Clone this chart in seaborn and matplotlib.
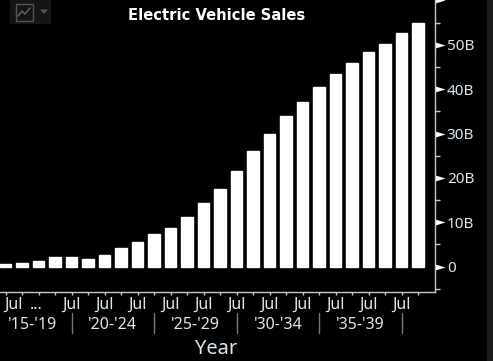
#!/usr/bin/env python3
# -*- coding: utf-8 -*-
import pandas as pd
import seaborn as sns
import matplotlib
matplotlib.use('Agg')
import matplotlib.pyplot as plt
from matplotlib.path import Path
from matplotlib.lines import Line2D
from matplotlib.patches import Rectangle

years = list(range(2014, 2040))
sales = [0.6, 0.9, 1.2, 2.1, 2.1, 1.8, 2.7, 4.1, 5.5, 7.3, 8.6, 11.1, 14.3, 17.6,
         21.5, 26.0, 30.0, 34.0, 37.0, 40.4, 43.5, 46.0, 48.3, 50.2, 52.6, 55.0]
ytick_vals = [0, 10, 20, 30, 40, 50, 60]
ytick_labels = ['0', '10B', '20B', '30B', '40B', '50B', '']
minor_vals = [-5, 5, 15, 25, 35, 45, 55]
jul_bars = [0.44, 1.84, 4, 6, 8, 10, 12, 14, 16, 18, 20, 22, 24]
jul_labels = ['Jul', '...', 'Jul', 'Jul', 'Jul', 'Jul', 'Jul', 'Jul', 'Jul', 'Jul', 'Jul', 'Jul', 'Jul']
group_labels = ["'15-'19", "'20-'24", "'25-'29", "'30-'34", "'35-'39"]
group_pos = [1.65, 6.5, 11.5, 16.5, 21.5]
group_seps = [4, 9, 14, 19, 24]

TXT = '#dbe6ee'
LINE = '#c8c8c8'

df = pd.DataFrame({'year': years, 'sales': sales})

sns.set_style('dark')
plt.rcParams['font.family'] = ['Noto Sans', 'DejaVu Sans']

W, H = 493, 361
fig = plt.figure(figsize=(W / 100, H / 100), dpi=100, facecolor='black')
ax = fig.add_axes([0, (H - 291.5) / H, 435 / W, 291.5 / H], facecolor='black')

sns.barplot(data=df, x='year', y='sales', color='white', saturation=1, width=0.7, ax=ax)

ax.set_xlim(-0.346, 26.03)
ax.set_ylim(-5.6, 60.1)
ax.grid(False)
ax.set_xlabel('')
ax.set_ylabel('')
for s in ['top', 'left']:
    ax.spines[s].set_visible(False)
for s in ['bottom', 'right']:
    ax.spines[s].set_visible(True)
    ax.spines[s].set_color(LINE)
    ax.spines[s].set_linewidth(1)

# x axis: one tick per bar, labels are placed by hand below
ax.set_xticks(range(len(years)))
ax.set_xticklabels(['' for y in years])
ax.tick_params(axis='x', length=2.5, width=1, color=LINE, bottom=True)
for b, lab in zip(jul_bars, jul_labels):
    ax.text(b, -0.06, lab, transform=ax.get_xaxis_transform(), ha='center', va='baseline',
            color=TXT, fontsize=11.5)
for p, lab in zip(group_pos, group_labels):
    ax.text(p, -0.129, lab, transform=ax.get_xaxis_transform(), ha='center', va='baseline',
            color=TXT, fontsize=11.5)
for b in group_seps:
    ax.plot([b, b], [-0.074, -0.142], transform=ax.get_xaxis_transform(), color='#777777',
            lw=1, clip_on=False)
fig.text(216 / W, 1 - 354 / H, 'Year', ha='center', va='baseline', color=TXT, fontsize=14.4)

# y axis on the right with bloomberg style triangle ticks
ax.yaxis.tick_right()
ax.set_yticks(ytick_vals)
ax.set_yticklabels(ytick_labels)
ax.set_yticks(minor_vals, minor=True)
ax.tick_params(axis='y', which='major', length=7, colors=TXT, pad=1.5, labelsize=11)
ax.tick_params(axis='y', which='minor', length=3.5, width=1, color=LINE)
tri = Path([(0, -0.3), (1, 0), (0, 0.3), (0, -0.3)], closed=True)
for t in ax.yaxis.get_major_ticks():
    t.tick2line.set_marker(tri)
    t.tick2line.set_markersize(14.4)
    t.tick2line.set_markerfacecolor('white')
    t.tick2line.set_markeredgecolor('white')
    t.tick2line.set_markeredgewidth(0)
    t.tick2line.set_clip_on(False)

fig.text(217 / W, 1 - 15 / H, 'Electric Vehicle Sales', ha='center', va='center',
         color='white', fontsize=10.6, fontweight='bold', family='DejaVu Sans')

# chart type button top left
def box(x, y, w, h, **kw):
    fig.add_artist(Rectangle((x / W, 1 - (y + h) / H), w / W, h / H, transform=fig.transFigure, **kw))

box(10, 0, 41, 24, facecolor='#151515', edgecolor='none')
box(15.5, 4, 17, 17, facecolor='none', edgecolor='#555555', lw=1)
fig.add_artist(Line2D([18 / W, 22 / W, 25 / W, 30 / W], [1 - 16 / H, 1 - 11 / H, 1 - 14 / H, 1 - 8 / H],
                      color='#666666', lw=1))
fig.add_artist(plt.Polygon([(40 / W, 1 - 9.5 / H), (48 / W, 1 - 9.5 / H), (44 / W, 1 - 14 / H)],
                           transform=fig.transFigure, facecolor='#555555', edgecolor='none'))
# darker strip down the right side
box(487, 0, 6, H, facecolor='#1c1c1c', edgecolor='none')

fig.savefig('out.png', dpi=100, facecolor='black')
